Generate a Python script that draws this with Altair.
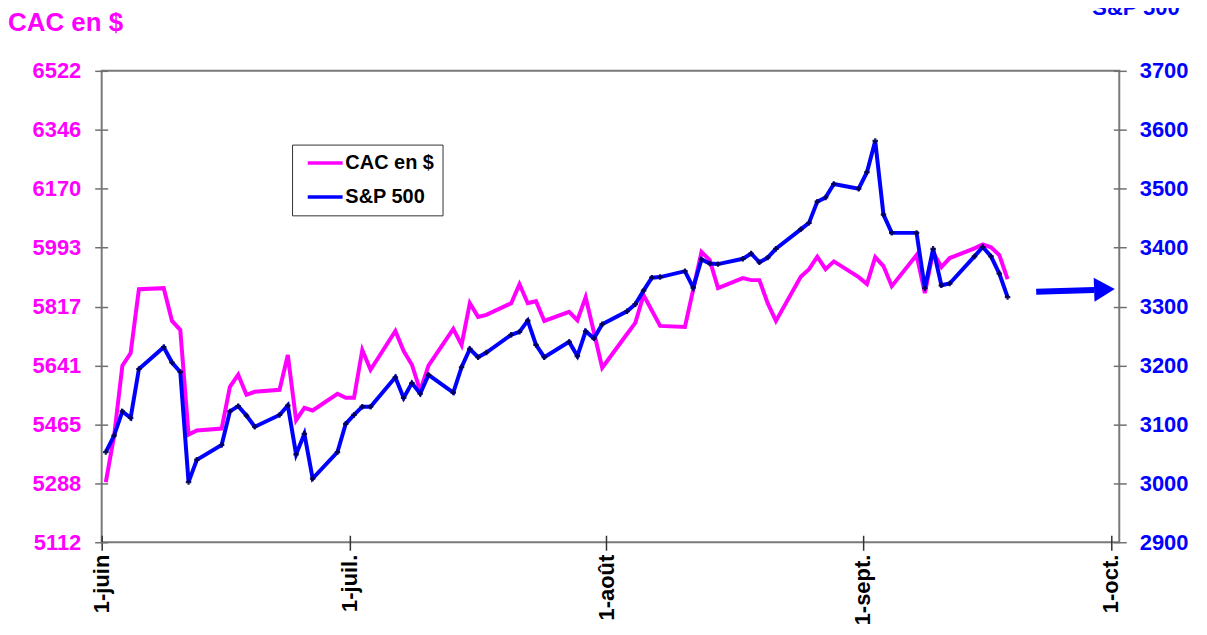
import altair as alt
import pandas as pd

# Trading days (calendar dates) June 1 - Sept 18, 2020
dates = [
    "2020-06-01", "2020-06-02", "2020-06-03", "2020-06-04", "2020-06-05",
    "2020-06-08", "2020-06-09", "2020-06-10", "2020-06-11", "2020-06-12",
    "2020-06-15", "2020-06-16", "2020-06-17", "2020-06-18", "2020-06-19",
    "2020-06-22", "2020-06-23", "2020-06-24", "2020-06-25", "2020-06-26",
    "2020-06-29", "2020-06-30",
    "2020-07-01", "2020-07-02", "2020-07-03",
    "2020-07-06", "2020-07-07", "2020-07-08", "2020-07-09", "2020-07-10",
    "2020-07-13", "2020-07-14", "2020-07-15", "2020-07-16", "2020-07-17",
    "2020-07-20", "2020-07-21", "2020-07-22", "2020-07-23", "2020-07-24",
    "2020-07-27", "2020-07-28", "2020-07-29", "2020-07-30", "2020-07-31",
    "2020-08-03", "2020-08-04", "2020-08-05", "2020-08-06", "2020-08-07",
    "2020-08-10", "2020-08-11", "2020-08-12", "2020-08-13", "2020-08-14",
    "2020-08-17", "2020-08-18", "2020-08-19", "2020-08-20", "2020-08-21",
    "2020-08-24", "2020-08-25", "2020-08-26", "2020-08-27", "2020-08-28",
    "2020-08-31",
    "2020-09-01", "2020-09-02", "2020-09-03", "2020-09-04",
    "2020-09-07", "2020-09-08", "2020-09-09", "2020-09-10", "2020-09-11",
    "2020-09-14", "2020-09-15", "2020-09-16", "2020-09-17", "2020-09-18",
]

cac_usd = [
    5292, 5430, 5640, 5678, 5869,
    5872, 5774, 5747, 5434, 5446,
    5452, 5577, 5613, 5553, 5562,
    5568, 5672, 5477, 5514, 5506,
    5556, 5544,
    5544, 5687, 5628,
    5744, 5684, 5643, 5565, 5640,
    5750, 5702, 5827, 5786, 5792,
    5827, 5884, 5827, 5833, 5774,
    5801, 5776, 5845, 5740, 5634,
    5735, 5768, 5851, 5805, 5759,
    5756, 5868, 5980, 5956, 5872,
    5902, 5896, 5896, 5827, 5774,
    5906, 5929, 5966, 5929, 5952,
    5905,
    5884, 5965, 5938, 5878,
    5971, 5857, 5980, 5935, 5962,
    5991, 6003, 5994, 5971, 5899,
]

sp500 = [
    3053, 3081, 3122, 3111, 3194,
    3231, 3205, 3189, 3002, 3040,
    3065, 3122, 3131, 3115, 3096,
    3116, 3132, 3049, 3084, 3008,
    3053, 3101,
    3116, 3130, 3130,
    3180, 3145, 3170, 3152, 3184,
    3154, 3197, 3228, 3214, 3222,
    3252, 3257, 3276, 3235, 3214,
    3240, 3216, 3258, 3246, 3270,
    3292, 3304, 3327, 3349, 3350,
    3360, 3332, 3380, 3373, 3372,
    3381, 3390, 3375, 3383, 3398,
    3431, 3442, 3478, 3485, 3508,
    3500,
    3528, 3581, 3456, 3425,
    3425, 3331, 3398, 3336, 3339,
    3385, 3401, 3385, 3356, 3316,
]

cac_ticks = [5112, 5288, 5465, 5641, 5817, 5993, 6170, 6346, 6522]
sp_ticks = [2900, 3000, 3100, 3200, 3300, 3400, 3500, 3600, 3700]
month_labels = ["1-juin", "1-juil.", "1-août", "1-sept.", "1-oct."]
series_names = ["CAC en $", "S&P 500"]
series_colors = ["#FF00FF", "#0000FF"]

# arrow pointing to the right-hand axis (S&P 500 scale)
arrow_dates = ["2020-09-21T23:00:00Z", "2020-09-28T23:00:00Z"]
arrow_vals = [3325, 3328]
arrow_head_date = ["2020-09-30T05:00:00Z"]
arrow_head_val = [3329]

FONT = "Liberation Sans"
GRAY = "#707070"

df = pd.DataFrame({
    "date": [d + "T12:00:00Z" for d in dates],
    "cac": cac_usd,
    "sp": sp500,
})
arrow_df = pd.DataFrame({"date": arrow_dates, "sp": arrow_vals})
head_df = pd.DataFrame({"date": arrow_head_date, "sp": arrow_head_val})

x_enc = alt.X(
    "date:T",
    title=None,
    scale=alt.Scale(
        type="utc",
        domain=[alt.DateTime(year=2020, month=6, date=1, utc=True),
                alt.DateTime(year=2020, month=10, date=2, utc=True)],
    ),
    axis=alt.Axis(
        values=[alt.DateTime(year=2020, month=m, date=1, utc=True) for m in range(6, 11)],
        labelExpr="%s[utcmonth(datum.value) - 5]" % str(month_labels),
        labelAngle=-90,
        labelFont=FONT, labelFontWeight="bold", labelFontSize=22, labelColor="black",
        labelPadding=4, offset=-7, tickSize=15, tickColor="#333333", tickWidth=1.5,
        domain=False, grid=False,
    ),
)

color_enc = alt.Color(
    "series:N",
    scale=alt.Scale(domain=series_names, range=series_colors),
    legend=alt.Legend(
        title=None, orient="none", legendX=191, legendY=74, direction="vertical",
        symbolType="M-2,0L2,0", symbolSize=306, symbolStrokeWidth=3.5,
        labelFont=FONT, labelFontWeight="bold", labelFontSize=20, labelColor="black",
        strokeColor="#333333", fillColor="white", padding=8, rowPadding=13,
        symbolOffset=14.75, labelOffset=9.75,
    ),
)

y_cac = alt.Y(
    "cac:Q", title=None,
    scale=alt.Scale(domain=[5112, 6522], nice=False, zero=False),
    axis=alt.Axis(
        orient="left", values=cac_ticks, format="d",
        labelFont=FONT, labelFontWeight="bold", labelFontSize=22, labelColor="#FF00FF",
        offset=-6, tickSize=13, tickColor=GRAY, tickWidth=1.5, labelPadding=14,
        domain=False, grid=False,
    ),
)

y_sp = alt.Y(
    "sp:Q", title=None,
    scale=alt.Scale(domain=[2900, 3700], nice=False, zero=False),
    axis=alt.Axis(
        orient="right", values=sp_ticks, format="d",
        labelFont=FONT, labelFontWeight="bold", labelFontSize=22, labelColor="#0000FF",
        offset=-6, tickSize=13, tickColor=GRAY, tickWidth=1.5, labelPadding=13,
        domain=False, grid=False,
    ),
)

base = alt.Chart(df)

cac_line = base.transform_calculate(series="'CAC en $'").mark_line(
    strokeWidth=4
).encode(x=x_enc, y=y_cac, color=color_enc)

sp_line = base.transform_calculate(series="'S&P 500'").mark_line(
    strokeWidth=4
).encode(x=x_enc, y=y_sp, color=color_enc)

sp_pts = base.mark_point(
    shape="cross", filled=True, size=30, color="#00004d", opacity=0.9
).encode(x=x_enc, y=y_sp)

arrow_shaft = alt.Chart(arrow_df).mark_line(
    color="#0000FF", strokeWidth=6, strokeCap="butt"
).encode(x=x_enc, y=y_sp)

arrow_head = alt.Chart(head_df).mark_point(
    shape="triangle-right", filled=True, size=576, color="#0000FF", opacity=1, angle=358
).encode(x=x_enc, y=y_sp)

sp_group = alt.layer(sp_line, sp_pts, arrow_shaft, arrow_head)

titles_df = pd.DataFrame({"t": ["CAC en $"]})
title_left = alt.Chart(titles_df).mark_text(
    font=FONT, fontWeight="bold", fontSize=26, color="#FF00FF",
    align="left", baseline="alphabetic",
).encode(text="t:N", x=alt.value(-94), y=alt.value(-40))

title_right = alt.Chart(pd.DataFrame({"t": ["S&P 500"]})).mark_text(
    font=FONT, fontWeight="bold", fontSize=22, color="#0000FF",
    align="left", baseline="alphabetic",
).encode(text="t:N", x=alt.value(994), y=alt.value(-56))

chart = alt.layer(cac_line, sp_group, title_left, title_right).resolve_scale(
    y="independent"
).properties(
    width=1021,
    height=473,
    autosize=alt.AutoSizeParams(type="none"),
    padding={"left": 94, "top": 62, "right": 80, "bottom": 84},
    background="white",
).configure_view(
    stroke="#7a7a7a", strokeWidth=2
)

chart.save("out.html", embed_options={"renderer": "svg", "actions": False})
